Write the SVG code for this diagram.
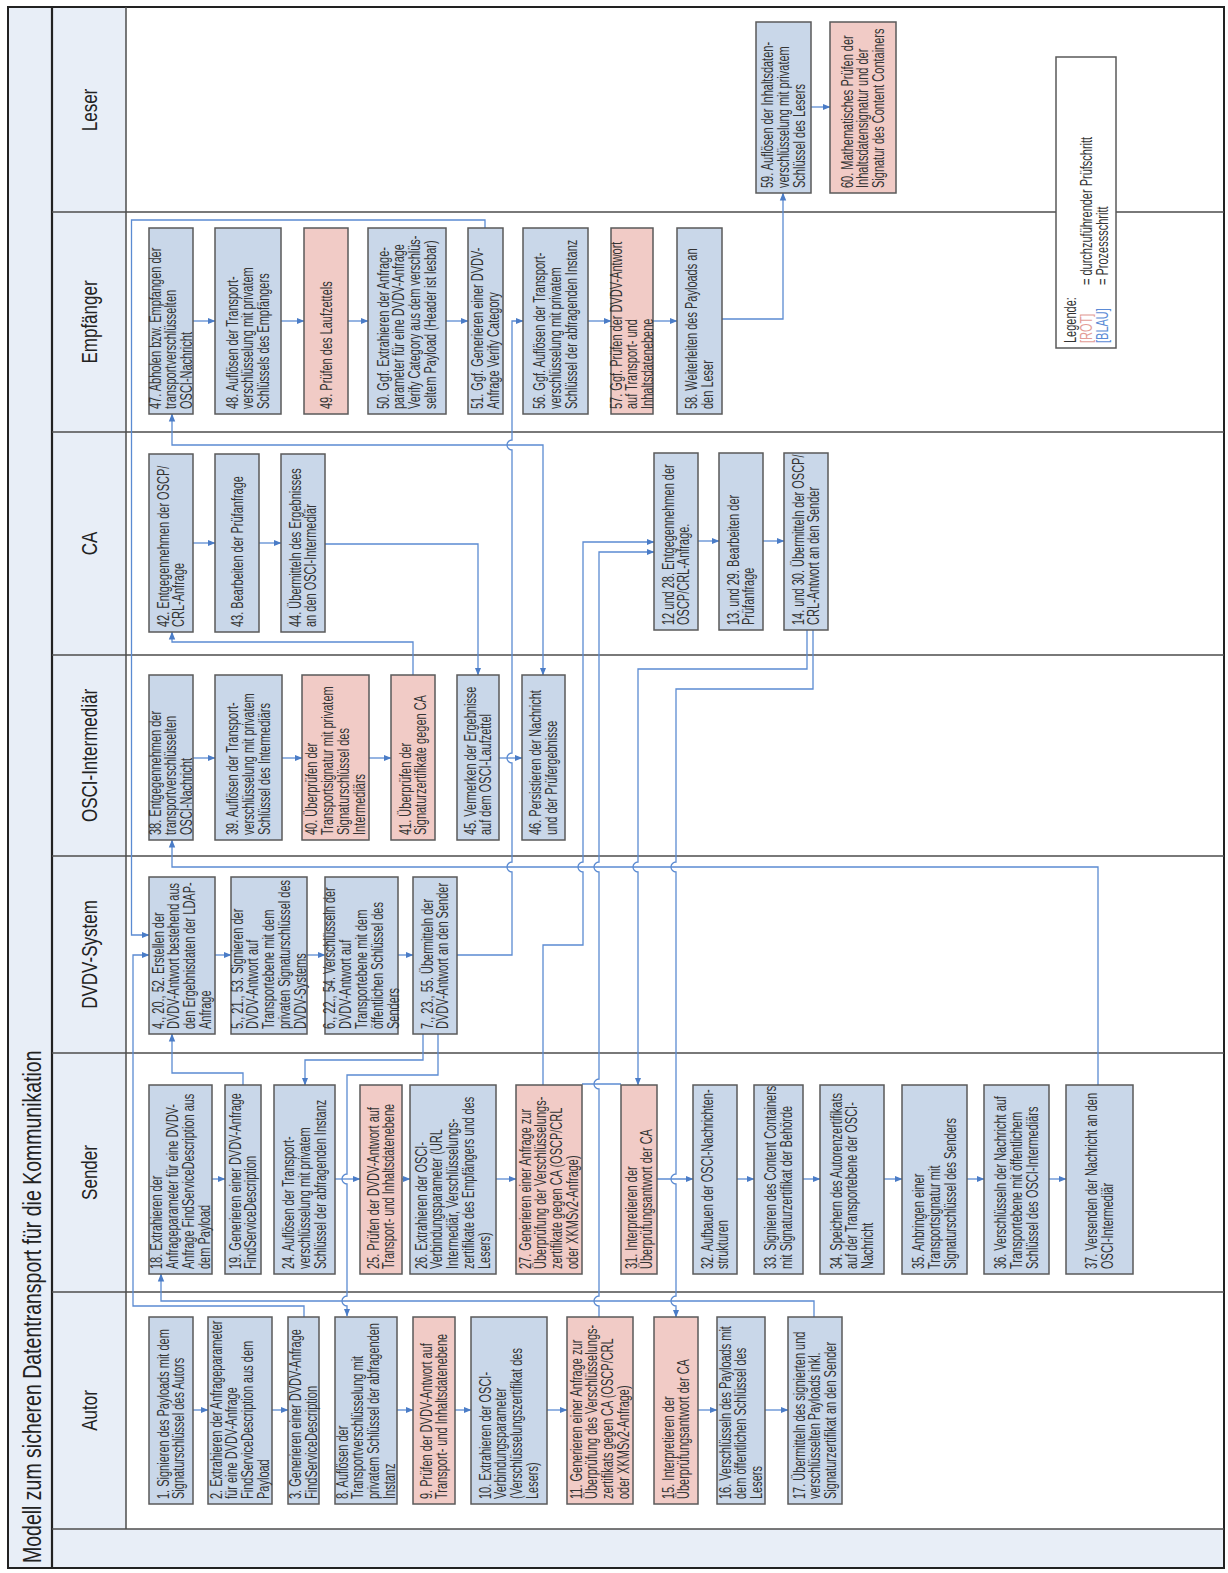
<svg xmlns="http://www.w3.org/2000/svg" width="1228" height="1573" viewBox="0 0 1228 1573">
<style>
.bg{fill:#e8eef7}
.ln{stroke:#4d4d4d;stroke-width:1.5;fill:none}
.b{fill:#c9d7e9;stroke:#5a5a5a;stroke-width:1.5}
.r{fill:#f1cbc6;stroke:#5a5a5a;stroke-width:1.5}
.t{font-family:"Liberation Sans",Arial,sans-serif;font-size:11px;fill:#333}
.lab{font-family:"Liberation Sans",Arial,sans-serif;font-size:17px;fill:#222;text-anchor:middle}
.c{fill:none;stroke:#5b8bd2;stroke-width:1.3}
.ca{fill:none;stroke:#5b8bd2;stroke-width:1.3;marker-end:url(#a)}
</style>
<defs>
<marker id="a" viewBox="0 0 8 8" refX="7.5" refY="4" markerWidth="8" markerHeight="8" markerUnits="userSpaceOnUse" orient="auto-start-reverse"><path d="M0,0.8 L8,4 L0,7.2 z" fill="#4a7cc7"/></marker>
</defs>
<rect x="0" y="0" width="1228" height="1573" fill="#fff"/>
<g id="frame">
<rect class="bg" x="8" y="7" width="44" height="1561"/>
<rect class="bg" x="52" y="7" width="74" height="1522"/>
<rect class="bg" x="52" y="1529" width="1172" height="39"/>
<rect x="8" y="7" width="1216" height="1561" fill="none" stroke="#222" stroke-width="2"/>
<line x1="52" y1="7" x2="52" y2="1568" stroke="#222" stroke-width="2.2"/>
<line class="ln" x1="126" y1="7" x2="126" y2="1529"/>
<path class="ln" d="M52,212 H1224 M52,432 H1224 M52,655 H1224 M52,856 H1224 M52,1053 H1224 M52,1292 H1224 M52,1529 H1224"/>
<text font-family="Liberation Sans,Arial,sans-serif" font-size="19.5" fill="#222" transform="translate(41,1563) rotate(-90) scale(1,1.3)">Modell zum sicheren Datentransport für die Kommunikation</text>
<text class="lab" transform="translate(96.5,110) rotate(-90) scale(1,1.25)">Leser</text>
<text class="lab" transform="translate(96.5,322) rotate(-90) scale(1,1.25)">Empfänger</text>
<text class="lab" transform="translate(96.5,543.5) rotate(-90) scale(1,1.25)">CA</text>
<text class="lab" transform="translate(96.5,755.5) rotate(-90) scale(1,1.25)">OSCI-Intermediär</text>
<text class="lab" transform="translate(96.5,954.5) rotate(-90) scale(1,1.25)">DVDV-System</text>
<text class="lab" transform="translate(96.5,1172.5) rotate(-90) scale(1,1.25)">Sender</text>
<text class="lab" transform="translate(96.5,1410.5) rotate(-90) scale(1,1.25)">Autor</text>
</g>
<g id="connectors">
<path class="ca" d="M212,1179 H225"/><path class="ca" d="M335,1179 H360"/><path class="ca" d="M402,1179 H410"/><path class="ca" d="M496,1179 H516"/><path class="ca" d="M657,1179 H693"/><path class="ca" d="M737,1179 H754"/><path class="ca" d="M803,1179 H820"/><path class="ca" d="M884,1179 H902"/><path class="ca" d="M967,1179 H984"/><path class="ca" d="M1049,1179 H1066"/>
<path class="ca" d="M193,1410 H208"/><path class="ca" d="M272,1410 H288"/><path class="ca" d="M397,1410 H413"/><path class="ca" d="M455,1410 H471"/><path class="ca" d="M547,1410 H567"/><path class="ca" d="M698,1410 H717"/><path class="ca" d="M765,1410 H788"/>
<path class="ca" d="M215,955 H231"/><path class="ca" d="M307,955 H325"/><path class="ca" d="M398,955 H413"/>
<path class="ca" d="M193,758 H215"/><path class="ca" d="M282,758 H302"/><path class="ca" d="M369,758 H391"/><path class="ca" d="M499,758 H522"/>
<path class="ca" d="M193,543 H215"/><path class="ca" d="M259,543 H281"/><path class="ca" d="M698,541 H719"/><path class="ca" d="M763,541 H784"/>
<path class="ca" d="M193,321 H215"/><path class="ca" d="M281,321 H304"/><path class="ca" d="M348,321 H368"/><path class="ca" d="M446,321 H468"/><path class="ca" d="M588,321 H611"/><path class="ca" d="M653,321 H677"/>
<path class="ca" d="M811,107 H830"/>
<path class="ca" d="M304,1317 V1306 H133 V955 H149"/>
<path class="ca" d="M485,228 V220 H131.5 V935 H149"/>
<path class="ca" d="M243,1085 V1073 H172 V1034"/>
<path class="ca" d="M423,1034 V1060 H305 V1085"/>
<path class="ca" d="M438,1034 V1075 H347 V1174 A5,5 0 0,0 347,1184 V1296 A5,5 0 0,0 347,1306 V1316"/>
<path class="ca" d="M814,1317 V1301 H161 V1274"/>
<path class="ca" d="M599,1317 V1306 A5,5 0 0,1 599,1296 V1089 A5,5 0 0,1 599,1079 V872 A5,5 0 0,1 599,862 V552 H654"/>
<path class="c" d="M582,1084 H621"/>
<path class="ca" d="M543,1085 V945 H583 V872 A5,5 0 0,1 583,862 V542 H654"/>
<path class="ca" d="M813,630 V689 H676 V862 A5,5 0 0,0 676,872 V1174 A5,5 0 0,0 676,1184 V1296 A5,5 0 0,0 676,1306 V1317"/>
<path class="ca" d="M807,630 V669 H638 V862 A5,5 0 0,0 638,872 V1085"/>
<path class="ca" d="M1098,1085 V867 H172 V840"/>
<path class="ca" d="M413,675 V642 H172 V632"/>
<path class="ca" d="M325,544 H478 V675"/>
<path class="ca" d="M543,675 V445 H172 V414" marker-start="url(#a)"/>
<path class="ca" d="M457,955 H512 V872 A5,5 0 0,1 512,862 V763 A5,5 0 0,1 512,753 V450 A5,5 0 0,1 512,440 V321 H523"/>
<path class="ca" d="M722,319 H783 V193"/>
</g>
<g id="n1"><rect class="b" x="149" y="1317" width="44" height="187"/><text class="t" transform="translate(168.5,1499) rotate(-90) scale(1,1.42)"><tspan x="0" y="0">1. Signieren des Payloads mit dem</tspan><tspan x="0" y="11.27">Signaturschlüssel des Autors</tspan></text></g>
<g id="n2"><rect class="b" x="208" y="1317" width="64" height="187"/><text class="t" transform="translate(221.5,1499) rotate(-90) scale(1,1.42)"><tspan x="0" y="0">2. Extrahieren der Anfrageparameter</tspan><tspan x="0" y="11.27">für eine DVDV-Anfrage</tspan><tspan x="0" y="22.54">FindServiceDescription aus dem</tspan><tspan x="0" y="33.8">Payload</tspan></text></g>
<g id="n3"><rect class="b" x="288" y="1317" width="31" height="187"/><text class="t" transform="translate(301,1499) rotate(-90) scale(1,1.42)"><tspan x="0" y="0">3. Generieren einer DVDV-Anfrage</tspan><tspan x="0" y="11.27">FindServiceDescription</tspan></text></g>
<g id="n8"><rect class="b" x="335" y="1317" width="62" height="187"/><text class="t" transform="translate(347.5,1499) rotate(-90) scale(1,1.42)"><tspan x="0" y="0">8. Auflösen der</tspan><tspan x="0" y="11.27">Transportverschlüsselung mit</tspan><tspan x="0" y="22.54">privatem Schlüssel der abfragenden</tspan><tspan x="0" y="33.8">Instanz</tspan></text></g>
<g id="n9"><rect class="r" x="413" y="1317" width="42" height="187"/><text class="t" transform="translate(431.5,1499) rotate(-90) scale(1,1.42)"><tspan x="0" y="0">9. Prüfen der DVDV-Antwort auf</tspan><tspan x="0" y="11.27">Transport- und Inhaltsdatenebene</tspan></text></g>
<g id="n10"><rect class="b" x="471" y="1317" width="76" height="187"/><text class="t" transform="translate(490.5,1499) rotate(-90) scale(1,1.42)"><tspan x="0" y="0">10. Extrahieren der OSCI-</tspan><tspan x="0" y="11.27">Verbindungsparameter</tspan><tspan x="0" y="22.54">(Verschlüsselungszertifikat des</tspan><tspan x="0" y="33.8">Lesers)</tspan></text></g>
<g id="n11"><rect class="r" x="567" y="1317" width="66" height="187"/><text class="t" transform="translate(581.5,1499) rotate(-90) scale(1,1.42)"><tspan x="0" y="0">11. Generieren einer Anfrage zur</tspan><tspan x="0" y="11.27">Überprüfung des Verschlüsselungs-</tspan><tspan x="0" y="22.54">zertifikats gegen CA (OSCP/CRL</tspan><tspan x="0" y="33.8">oder XKMSv2-Anfrage)</tspan></text></g>
<g id="n15"><rect class="r" x="654" y="1317" width="44" height="187"/><text class="t" transform="translate(673.5,1499) rotate(-90) scale(1,1.42)"><tspan x="0" y="0">15. Interpretieren der</tspan><tspan x="0" y="11.27">Überprüfungsantwort der CA</tspan></text></g>
<g id="n16"><rect class="b" x="717" y="1317" width="48" height="187"/><text class="t" transform="translate(730.5,1499) rotate(-90) scale(1,1.42)"><tspan x="0" y="0">16. Verschlüsseln des Payloads mit</tspan><tspan x="0" y="11.27">dem öffentlichen Schlüssel des</tspan><tspan x="0" y="22.54">Lesers</tspan></text></g>
<g id="n17"><rect class="b" x="788" y="1317" width="54" height="187"/><text class="t" transform="translate(804.5,1499) rotate(-90) scale(1,1.42)"><tspan x="0" y="0">17. Übermitteln des signierten und</tspan><tspan x="0" y="11.27">verschlüsselten Payloads inkl.</tspan><tspan x="0" y="22.54">Signaturzertifikat an den Sender</tspan></text></g>
<g id="n18"><rect class="b" x="149" y="1085" width="63" height="189"/><text class="t" transform="translate(162,1269) rotate(-90) scale(1,1.42)"><tspan x="0" y="0">18. Extrahieren der</tspan><tspan x="0" y="11.27">Anfrageparameter für eine DVDV-</tspan><tspan x="0" y="22.54">Anfrage FindServiceDescription aus</tspan><tspan x="0" y="33.8">dem Payload</tspan></text></g>
<g id="n19"><rect class="b" x="225" y="1085" width="36" height="189"/><text class="t" transform="translate(240.5,1269) rotate(-90) scale(1,1.42)"><tspan x="0" y="0">19. Generieren einer DVDV-Anfrage</tspan><tspan x="0" y="11.27">FindServiceDescription</tspan></text></g>
<g id="n24"><rect class="b" x="274" y="1085" width="61" height="189"/><text class="t" transform="translate(294,1269) rotate(-90) scale(1,1.42)"><tspan x="0" y="0">24. Auflösen der Transport-</tspan><tspan x="0" y="11.27">verschlüsselung mit privatem</tspan><tspan x="0" y="22.54">Schlüssel der abfragenden Instanz</tspan></text></g>
<g id="n25"><rect class="r" x="360" y="1085" width="42" height="189"/><text class="t" transform="translate(378.5,1269) rotate(-90) scale(1,1.42)"><tspan x="0" y="0">25. Prüfen der DVDV-Antwort auf</tspan><tspan x="0" y="11.27">Transport- und Inhaltsdatenebene</tspan></text></g>
<g id="n26"><rect class="b" x="410" y="1085" width="86" height="189"/><text class="t" transform="translate(426.5,1269) rotate(-90) scale(1,1.42)"><tspan x="0" y="0">26. Extrahieren der OSCI-</tspan><tspan x="0" y="11.27">Verbindungsparameter (URL</tspan><tspan x="0" y="22.54">Intermediär, Verschlüsselungs-</tspan><tspan x="0" y="33.8">zertifikate des Empfängers und des</tspan><tspan x="0" y="45.07">Lesers)</tspan></text></g>
<g id="n27"><rect class="r" x="516" y="1085" width="66" height="189"/><text class="t" transform="translate(530.5,1269) rotate(-90) scale(1,1.42)"><tspan x="0" y="0">27. Generieren einer Anfrage zur</tspan><tspan x="0" y="11.27">Überprüfung der Verschlüsselungs-</tspan><tspan x="0" y="22.54">zertifikate gegen CA (OSCP/CRL</tspan><tspan x="0" y="33.8">oder XKMSv2-Anfrage)</tspan></text></g>
<g id="n31"><rect class="r" x="621" y="1085" width="36" height="189"/><text class="t" transform="translate(636.5,1269) rotate(-90) scale(1,1.42)"><tspan x="0" y="0">31. Interpretieren der</tspan><tspan x="0" y="11.27">Überprüfungsantwort der CA</tspan></text></g>
<g id="n32"><rect class="b" x="693" y="1085" width="44" height="189"/><text class="t" transform="translate(712.5,1269) rotate(-90) scale(1,1.42)"><tspan x="0" y="0">32. Aufbauen der OSCI-Nachrichten-</tspan><tspan x="0" y="11.27">strukturen</tspan></text></g>
<g id="n33"><rect class="b" x="754" y="1085" width="49" height="189"/><text class="t" transform="translate(776,1269) rotate(-90) scale(1,1.42)"><tspan x="0" y="0">33. Signieren des Content Containers</tspan><tspan x="0" y="11.27">mit Signaturzertifikat der Behörde</tspan></text></g>
<g id="n34"><rect class="b" x="820" y="1085" width="64" height="189"/><text class="t" transform="translate(841.5,1269) rotate(-90) scale(1,1.42)"><tspan x="0" y="0">34. Speichern des Autorenzertifikats</tspan><tspan x="0" y="11.27">auf der Transportebene der OSCI-</tspan><tspan x="0" y="22.54">Nachricht</tspan></text></g>
<g id="n35"><rect class="b" x="902" y="1085" width="65" height="189"/><text class="t" transform="translate(924,1269) rotate(-90) scale(1,1.42)"><tspan x="0" y="0">35. Anbringen einer</tspan><tspan x="0" y="11.27">Transportsignatur mit</tspan><tspan x="0" y="22.54">Signaturschlüssel des Senders</tspan></text></g>
<g id="n36"><rect class="b" x="984" y="1085" width="65" height="189"/><text class="t" transform="translate(1006,1269) rotate(-90) scale(1,1.42)"><tspan x="0" y="0">36. Verschlüsseln der Nachricht auf</tspan><tspan x="0" y="11.27">Transportebene mit öffentlichem</tspan><tspan x="0" y="22.54">Schlüssel des OSCI-Intermediärs</tspan></text></g>
<g id="n37"><rect class="b" x="1066" y="1085" width="67" height="189"/><text class="t" transform="translate(1097,1269) rotate(-90) scale(1,1.42)"><tspan x="0" y="0">37. Versenden der Nachricht an den</tspan><tspan x="0" y="11.27">OSCI-Intermediär</tspan></text></g>
<g id="n4"><rect class="b" x="149" y="877" width="66" height="157"/><text class="t" transform="translate(163.5,1029) rotate(-90) scale(1,1.42)"><tspan x="0" y="0">4., 20., 52. Erstellen der</tspan><tspan x="0" y="11.27">DVDV-Antwort bestehend aus</tspan><tspan x="0" y="22.54">den Ergebnisdaten der LDAP-</tspan><tspan x="0" y="33.8">Anfrage</tspan></text></g>
<g id="n5"><rect class="b" x="231" y="877" width="76" height="157"/><text class="t" transform="translate(242.5,1029) rotate(-90) scale(1,1.42)"><tspan x="0" y="0">5., 21., 53. Signieren der</tspan><tspan x="0" y="11.27">DVDV-Antwort auf</tspan><tspan x="0" y="22.54">Transportebene mit dem</tspan><tspan x="0" y="33.8">privaten Signaturschlüssel des</tspan><tspan x="0" y="45.07">DVDV-Systems</tspan></text></g>
<g id="n6"><rect class="b" x="325" y="877" width="73" height="157"/><text class="t" transform="translate(335,1029) rotate(-90) scale(1,1.42)"><tspan x="0" y="0">6., 22., 54. Verschlüsseln der</tspan><tspan x="0" y="11.27">DVDV-Antwort auf</tspan><tspan x="0" y="22.54">Transportebene mit dem</tspan><tspan x="0" y="33.8">öffentlichen Schlüssel des</tspan><tspan x="0" y="45.07">Senders</tspan></text></g>
<g id="n7"><rect class="b" x="413" y="877" width="44" height="157"/><text class="t" transform="translate(432.5,1029) rotate(-90) scale(1,1.42)"><tspan x="0" y="0">7., 23., 55. Übermitteln der</tspan><tspan x="0" y="11.27">DVDV-Antwort an den Sender</tspan></text></g>
<g id="n38"><rect class="b" x="149" y="675" width="44" height="165"/><text class="t" transform="translate(160.5,835) rotate(-90) scale(1,1.42)"><tspan x="0" y="0">38. Entgegennehmen der</tspan><tspan x="0" y="11.27">transportverschlüsselten</tspan><tspan x="0" y="22.54">OSCI-Nachricht</tspan></text></g>
<g id="n39"><rect class="b" x="215" y="675" width="67" height="165"/><text class="t" transform="translate(238,835) rotate(-90) scale(1,1.42)"><tspan x="0" y="0">39. Auflösen der Transport-</tspan><tspan x="0" y="11.27">verschlüsselung mit privatem</tspan><tspan x="0" y="22.54">Schlüssel des Intermediärs</tspan></text></g>
<g id="n40"><rect class="r" x="302" y="675" width="67" height="165"/><text class="t" transform="translate(317,835) rotate(-90) scale(1,1.42)"><tspan x="0" y="0">40. Überprüfen der</tspan><tspan x="0" y="11.27">Transportsignatur mit privatem</tspan><tspan x="0" y="22.54">Signaturschlüssel des</tspan><tspan x="0" y="33.8">Intermediärs</tspan></text></g>
<g id="n41"><rect class="r" x="391" y="675" width="44" height="165"/><text class="t" transform="translate(410.5,835) rotate(-90) scale(1,1.42)"><tspan x="0" y="0">41. Überprüfen der</tspan><tspan x="0" y="11.27">Signaturzertifikate gegen CA</tspan></text></g>
<g id="n45"><rect class="b" x="457" y="675" width="42" height="165"/><text class="t" transform="translate(475.5,835) rotate(-90) scale(1,1.42)"><tspan x="0" y="0">45. Vermerken der Ergebnisse</tspan><tspan x="0" y="11.27">auf dem OSCI-Laufzettel</tspan></text></g>
<g id="n46"><rect class="b" x="522" y="675" width="43" height="165"/><text class="t" transform="translate(541,835) rotate(-90) scale(1,1.42)"><tspan x="0" y="0">46. Persistieren der Nachricht</tspan><tspan x="0" y="11.27">und der Prüfergebnisse</tspan></text></g>
<g id="n42"><rect class="b" x="149" y="454" width="44" height="178"/><text class="t" transform="translate(168.5,627) rotate(-90) scale(1,1.42)"><tspan x="0" y="0">42. Entgegennehmen der OSCP/</tspan><tspan x="0" y="11.27">CRL-Anfrage</tspan></text></g>
<g id="n43"><rect class="b" x="215" y="454" width="44" height="178"/><text class="t" transform="translate(242.5,627) rotate(-90) scale(1,1.42)"><tspan x="0" y="0">43. Bearbeiten der Prüfanfrage</tspan></text></g>
<g id="n44"><rect class="b" x="281" y="454" width="44" height="178"/><text class="t" transform="translate(300.5,627) rotate(-90) scale(1,1.42)"><tspan x="0" y="0">44. Übermitteln des Ergebnisses</tspan><tspan x="0" y="11.27">an den OSCI-Intermediär</tspan></text></g>
<g id="n12"><rect class="b" x="654" y="453" width="44" height="177"/><text class="t" transform="translate(673.5,625) rotate(-90) scale(1,1.42)"><tspan x="0" y="0">12 und 28. Entgegennehmen der</tspan><tspan x="0" y="11.27">OSCP/CRL-Anfrage.</tspan></text></g>
<g id="n13"><rect class="b" x="719" y="453" width="44" height="177"/><text class="t" transform="translate(738.5,625) rotate(-90) scale(1,1.42)"><tspan x="0" y="0">13. und 29. Bearbeiten der</tspan><tspan x="0" y="11.27">Prüfanfrage</tspan></text></g>
<g id="n14"><rect class="b" x="784" y="453" width="44" height="177"/><text class="t" transform="translate(803.5,625) rotate(-90) scale(1,1.42)"><tspan x="0" y="0">14. und 30. Übermitteln der OSCP/</tspan><tspan x="0" y="11.27">CRL-Antwort an den Sender</tspan></text></g>
<g id="n47"><rect class="b" x="149" y="228" width="44" height="186"/><text class="t" transform="translate(160.5,409) rotate(-90) scale(1,1.42)"><tspan x="0" y="0">47. Abholen bzw. Empfangen der</tspan><tspan x="0" y="11.27">transportverschlüsselten</tspan><tspan x="0" y="22.54">OSCI-Nachricht</tspan></text></g>
<g id="n48"><rect class="b" x="215" y="228" width="66" height="186"/><text class="t" transform="translate(237.5,409) rotate(-90) scale(1,1.42)"><tspan x="0" y="0">48. Auflösen der Transport-</tspan><tspan x="0" y="11.27">verschlüsselung mit privatem</tspan><tspan x="0" y="22.54">Schlüssels des Empfängers</tspan></text></g>
<g id="n49"><rect class="r" x="304" y="228" width="44" height="186"/><text class="t" transform="translate(331.5,409) rotate(-90) scale(1,1.42)"><tspan x="0" y="0">49. Prüfen des Laufzettels</tspan></text></g>
<g id="n50"><rect class="b" x="368" y="228" width="78" height="186"/><text class="t" transform="translate(388.5,409) rotate(-90) scale(1,1.42)"><tspan x="0" y="0">50. Ggf. Extrahieren der Anfrage-</tspan><tspan x="0" y="11.27">parameter für eine DVDV-Anfrage</tspan><tspan x="0" y="22.54">Verify Category aus dem verschlüs-</tspan><tspan x="0" y="33.8">seltem Payload (Header ist lesbar)</tspan></text></g>
<g id="n51"><rect class="b" x="468" y="228" width="35" height="186"/><text class="t" transform="translate(483,409) rotate(-90) scale(1,1.42)"><tspan x="0" y="0">51. Ggf. Generieren einer DVDV-</tspan><tspan x="0" y="11.27">Anfrage Verify Category</tspan></text></g>
<g id="n56"><rect class="b" x="523" y="228" width="65" height="186"/><text class="t" transform="translate(545,409) rotate(-90) scale(1,1.42)"><tspan x="0" y="0">56. Ggf. Auflösen der Transport-</tspan><tspan x="0" y="11.27">verschlüsselung mit privatem</tspan><tspan x="0" y="22.54">Schlüssel der abfragenden Instanz</tspan></text></g>
<g id="n57"><rect class="r" x="611" y="228" width="42" height="186"/><text class="t" transform="translate(621.5,409) rotate(-90) scale(1,1.42)"><tspan x="0" y="0">57. Ggf. Prüfen der DVDV-Antwort</tspan><tspan x="0" y="11.27">auf Transport- und</tspan><tspan x="0" y="22.54">Inhaltsdatenebene</tspan></text></g>
<g id="n58"><rect class="b" x="677" y="228" width="45" height="186"/><text class="t" transform="translate(697,409) rotate(-90) scale(1,1.42)"><tspan x="0" y="0">58. Weiterleiten des Payloads an</tspan><tspan x="0" y="11.27">den Leser</tspan></text></g>
<g id="n59"><rect class="b" x="756" y="22" width="55" height="171"/><text class="t" transform="translate(773,188) rotate(-90) scale(1,1.42)"><tspan x="0" y="0">59. Auflösen der Inhaltsdaten-</tspan><tspan x="0" y="11.27">verschlüsselung mit privatem</tspan><tspan x="0" y="22.54">Schlüssel des Lesers</tspan></text></g>
<g id="n60"><rect class="r" x="830" y="22" width="66" height="171"/><text class="t" transform="translate(852.5,188) rotate(-90) scale(1,1.42)"><tspan x="0" y="0">60. Mathematisches Prüfen der</tspan><tspan x="0" y="11.27">Inhaltsdatensignatur und der</tspan><tspan x="0" y="22.54">Signatur des Content Containers</tspan></text></g>
<g id="legend"><rect x="1056" y="57" width="60" height="291" fill="#fff" stroke="#5a5a5a" stroke-width="1.5"/>
<text class="t" transform="translate(1076,343) rotate(-90) scale(1,1.42)">Legende:</text>
<text class="t" transform="translate(1092,343) rotate(-90) scale(1,1.42)" style="fill:#e39d97">[ROT]</text>
<text class="t" transform="translate(1092,285) rotate(-90) scale(1,1.42)">= durchzuführender Prüfschritt</text>
<text class="t" transform="translate(1108,343) rotate(-90) scale(1,1.42)" style="fill:#5b8bd6">[BLAU]</text>
<text class="t" transform="translate(1108,285) rotate(-90) scale(1,1.42)">= Prozessschritt</text>
</g>
</svg>
